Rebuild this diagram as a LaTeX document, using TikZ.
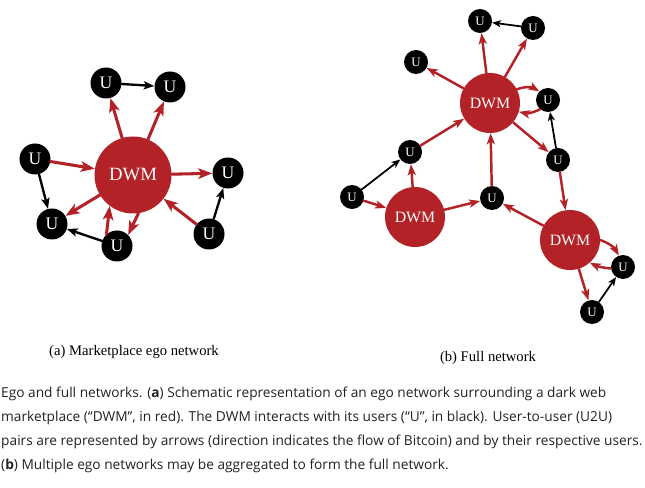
\documentclass[tikz,border=0pt]{standalone}
\usepackage{fontspec}
\setmainfont{Liberation Serif}
\newfontfamily\capfont{Open Sans}
\usetikzlibrary{arrows.meta}
\definecolor{dwmred}{RGB}{178,34,38}
\definecolor{captext}{RGB}{34,34,34}

\begin{document}
\begin{tikzpicture}[line cap=round,line join=round,x=0.03cm,y=-0.03cm,
  dwmbig/.style={circle,fill=dwmred,text=white,inner sep=0pt,minimum size=2.31cm,font=\fontsize{16}{16}\selectfont},
  usrbig/.style={circle,fill=black,text=white,inner sep=0pt,minimum size=0.93cm,font=\fontsize{15}{15}\selectfont},
  dwmsmall/.style={circle,fill=dwmred,text=white,inner sep=0pt,minimum size=1.8cm,font=\fontsize{13.5}{13.5}\selectfont},
  usrsmall/.style={circle,fill=black,text=white,inner sep=0pt,minimum size=0.72cm,font=\fontsize{11}{11}\selectfont},
  flow/.style={->,color=dwmred},
  pair/.style={->,color=black}]
\useasboundingbox (0,0) rectangle (645,488);
% (a) ego network
\node[dwmbig] (ma) at (133,175) {DWM};
\node[usrbig] (ua1) at (106,83) {U};
\node[usrbig] (ua2) at (170,87) {U};
\node[usrbig] (ua3) at (35,159) {U};
\node[usrbig] (ua4) at (228,173) {U};
\node[usrbig] (ua5) at (52,224) {U};
\node[usrbig] (ua6) at (117,246) {U};
\node[usrbig] (ua7) at (209,234) {U};
\begin{scope}[line width=2.6pt,>={Stealth[length=12pt,width=9pt,inset=3pt]}]
\draw[flow] (ma) -- (ua1);
\draw[flow] (ma) -- (ua2);
\draw[flow] (ua3) -- (ma);
\draw[flow] (ma) -- (ua4);
\draw[flow] (ma) -- (ua5);
\draw[flow] (ua6.132) -- (ma.233);
\draw[flow] (ma.278) -- (ua6.45);
\draw[flow] (ua7) -- (ma);
\end{scope}
\begin{scope}[line width=2pt,>={Stealth[length=9pt,width=7pt,inset=2pt]}]
\draw[pair] (ua1) -- (ua2);
\draw[pair] (ua3) -- (ua5);
\draw[pair] (ua6) -- (ua5);
\draw[pair] (ua7) -- (ua4);
\end{scope}
% (b) full network
\node[dwmsmall] (mt) at (490,103) {DWM};
\node[dwmsmall] (ml) at (415,217) {DWM};
\node[dwmsmall] (mr) at (570,240) {DWM};
\node[usrsmall] (ub1) at (480,21) {U};
\node[usrsmall] (ub2) at (533,28) {U};
\node[usrsmall] (ub3) at (416,62) {U};
\node[usrsmall] (ub4) at (548,100) {U};
\node[usrsmall] (ub5) at (410,152) {U};
\node[usrsmall] (ub6) at (558,160) {U};
\node[usrsmall] (ub7) at (352,197) {U};
\node[usrsmall] (ub8) at (492,198) {U};
\node[usrsmall] (ub9) at (623,267) {U};
\node[usrsmall] (ub10) at (592,312) {U};
\begin{scope}[line width=2.1pt,>={Stealth[length=9.5pt,width=7pt,inset=2.5pt]}]
\draw[flow] (mt) -- (ub1);
\draw[flow] (mt) -- (ub2);
\draw[flow] (mt) -- (ub3);
\draw[flow] (mt.27) to[bend left=25] (ub4.135);
\draw[flow] (ub4.229) to[bend left=20] (mt.343);
\draw[flow] (mt) -- (ub6);
\draw[flow] (ub5) -- (mt);
\draw[flow] (ub8) -- (mt);
\draw[flow] (ml) -- (ub5);
\draw[flow] (ub7) -- (ml);
\draw[flow] (ml) -- (ub8);
\draw[flow] (mr) -- (ub8);
\draw[flow] (ub6) -- (mr);
\draw[flow] (mr.0) to[bend left=20] (ub9.110);
\draw[flow] (ub9.187) to[bend left=10] (mr.311);
\draw[flow] (mr) -- (ub10);
\end{scope}
\begin{scope}[line width=1.5pt,>={Stealth[length=7.5pt,width=6pt,inset=2pt]}]
\draw[pair] (ub2) -- (ub1);
\draw[pair] (ub6) -- (ub4);
\draw[pair] (ub7) -- (ub5);
\draw[pair] (ub10) -- (ub9);
\end{scope}
% captions
\node[font=\fontsize{12.5}{12.5}\selectfont] (capa) at (134,352) {(a) Marketplace ego network};
\node[font=\fontsize{12.5}{12.5}\selectfont] (capb) at (488,358) {(b) Full network};
\node[anchor=north west,align=left,inner sep=0pt,text=captext,
  font=\capfont\fontsize{11.7}{20.4}\selectfont] (legend) at (1,387)
  {Ego and full networks. (\textbf{a}) Schematic representation of an ego network surrounding a dark web\\
   marketplace (“DWM”, in red). The DWM interacts with its users (“U”, in black). User-to-user (U2U)\\
   pairs are represented by arrows (direction indicates the flow of Bitcoin) and by their respective users.\\
   (\textbf{b}) Multiple ego networks may be aggregated to form the full network.};
\end{tikzpicture}
\end{document}
